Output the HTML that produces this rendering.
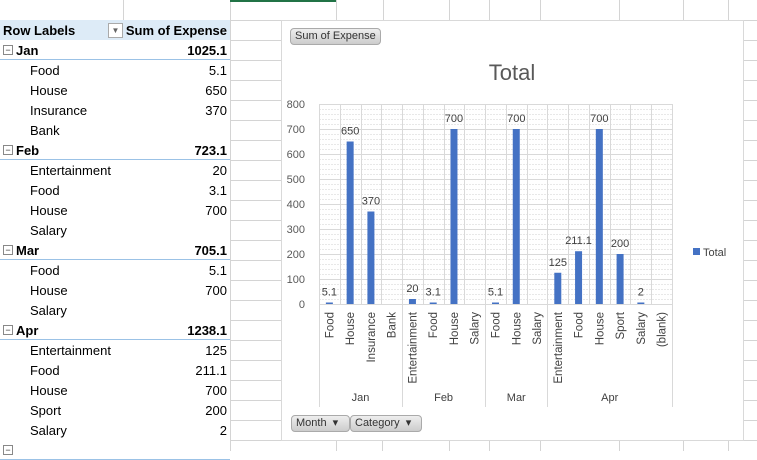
<!DOCTYPE html>
<html><head><meta charset="utf-8"><style>
body{margin:0;width:757px;height:451px;overflow:hidden;background:#fff;font-family:"Liberation Sans",sans-serif;position:relative}
.r{position:absolute;left:0;width:230px;height:20px;font-size:13px;line-height:21px;color:#000}
.r span{position:absolute}
.v{right:3px}
.b{font-weight:bold;border-bottom:1px solid #9bc2e6;height:19px}
.btn{position:absolute;height:15px;background:linear-gradient(#eee,#ccc);border:1px solid #aaa;border-radius:4px;font-size:11px;line-height:15px;color:#333;padding:0 4px}
</style></head><body>
<svg width="757" height="451" style="position:absolute;left:0;top:0">
<g stroke="#d4d4d4" stroke-width="1">
<line x1="230.5" y1="0" x2="230.5" y2="451"/>
<line x1="336.5" y1="0" x2="336.5" y2="20"/><line x1="383.5" y1="0" x2="383.5" y2="20"/><line x1="449.5" y1="0" x2="449.5" y2="20"/><line x1="489.5" y1="0" x2="489.5" y2="20"/><line x1="540.5" y1="0" x2="540.5" y2="20"/><line x1="619.5" y1="0" x2="619.5" y2="20"/><line x1="683.5" y1="0" x2="683.5" y2="20"/><line x1="728.5" y1="0" x2="728.5" y2="20"/>
<line x1="336.5" y1="441" x2="336.5" y2="451"/><line x1="382.5" y1="441" x2="382.5" y2="451"/><line x1="449.5" y1="441" x2="449.5" y2="451"/><line x1="489.5" y1="441" x2="489.5" y2="451"/><line x1="540.5" y1="441" x2="540.5" y2="451"/><line x1="619.5" y1="441" x2="619.5" y2="451"/><line x1="683.5" y1="441" x2="683.5" y2="451"/><line x1="728.5" y1="441" x2="728.5" y2="451"/>
<line x1="230" y1="20.5" x2="757" y2="20.5"/>
<line x1="123.5" y1="0" x2="123.5" y2="20"/>
</g>
<g id="grid" stroke="#d4d4d4"></g>
<line x1="230" y1="1" x2="336" y2="1" stroke="#217346" stroke-width="2"/>
<rect x="0" y="20" width="230" height="20" fill="#ddebf7"/>
<rect x="281.5" y="20.5" width="462" height="420" fill="#fff" stroke="#d9d9d9"/>
<g id="chart"></g>
</svg>
<div class="r" style="top:20px;font-weight:bold"><span style="left:3px">Row Labels</span><span style="left:108px;top:3px;width:13px;height:13px;border:1px solid #aaa;background:#fff;font-size:8px;line-height:13px;text-align:center;color:#666">▼</span><span class="v">Sum of Expense</span></div>
<div id="rows"></div>
<div class="btn" style="left:290px;top:28px">Sum of Expense</div>
<div class="btn" style="left:291px;top:415px;width:49px">Month &nbsp;▾</div>
<div class="btn" style="left:350px;top:415px;width:62px">Category &nbsp;▾</div>
<script>
let gl="";for(let y=40;y<=440;y+=20){gl+=`<line x1="230" y1="${y+.5}" x2="281" y2="${y+.5}"/><line x1="744" y1="${y+.5}" x2="757" y2="${y+.5}"/>`;}
document.getElementById("grid").innerHTML=gl;
const rows=[["Jan","1025.1",1],["Food","5.1"],["House","650"],["Insurance","370"],["Bank",""],["Feb","723.1",1],["Entertainment","20"],["Food","3.1"],["House","700"],["Salary",""],["Mar","705.1",1],["Food","5.1"],["House","700"],["Salary",""],["Apr","1238.1",1],["Entertainment","125"],["Food","211.1"],["House","700"],["Sport","200"],["Salary","2"],["",""  ,1]];
let h="";rows.forEach((r,i)=>{const y=40+i*20;
if(r[2])h+=`<div class="r b" style="top:${y}px"><span style="left:3px;top:5px;width:8px;height:8px;border:1px solid #888;font-size:9px;line-height:8px;text-align:center;font-weight:normal;color:#333">−</span><span style="left:16px">${r[0]}</span><span class="v">${r[1]}</span></div>`;
else h+=`<div class="r" style="top:${y}px"><span style="left:30px">${r[0]}</span><span class="v">${r[1]}</span></div>`;});
document.getElementById("rows").innerHTML=h;
const cats=[["Food",5.1],["House",650],["Insurance",370],["Bank",null],["Entertainment",20],["Food",3.1],["House",700],["Salary",null],["Food",5.1],["House",700],["Salary",null],["Entertainment",125],["Food",211.1],["House",700],["Sport",200],["Salary",2],["(blank)",null]];
const x0=319,x1=672,y0=304,w=(x1-x0)/17,s=0.25;let g="";
for(let v=0;v<=800;v+=20){const y=y0-v*s;g+=`<line x1="${x0}" x2="${x1}" y1="${y+.5}" y2="${y+.5}" stroke="${v%100?'#e8e8e8':'#d9d9d9'}" ${v%100?'stroke-dasharray="2,1"':''}/>`;
if(v%100==0)g+=`<text x="305" y="${y+4}" text-anchor="end" font-size="11" fill="#595959">${v}</text>`;}
for(let i=0;i<=17;i++){const x=Math.round(x0+i*w)+.5;const mb=[0,4,8,11,17].includes(i);g+=`<line x1="${x}" x2="${x}" y1="104" y2="${mb?407:304}" stroke="#d9d9d9"/>`;}
cats.forEach((c,i)=>{const cx=x0+(i+.5)*w;if(c[1]!=null){const hh=Math.max(c[1]*s,1.5);g+=`<rect x="${cx-3.5}" y="${y0-hh}" width="7" height="${hh}" fill="#4472c4"/><text x="${cx}" y="${y0-hh-7}" text-anchor="middle" font-size="11" fill="#404040">${c[1]}</text>`;}
g+=`<text transform="translate(${cx+4},312) rotate(-90)" text-anchor="end" font-size="11.5" fill="#404040">${c[0]}</text>`;});
[["Jan",0,4],["Feb",4,8],["Mar",8,11],["Apr",11,17]].forEach(m=>{g+=`<text x="${x0+(m[1]+m[2])/2*w}" y="401" text-anchor="middle" font-size="11" fill="#404040">${m[0]}</text>`;});
g+=`<text x="512" y="80" text-anchor="middle" font-size="22" fill="#595959">Total</text>`;
g+=`<rect x="693" y="248" width="7" height="7" fill="#4472c4"/><text x="703" y="256" font-size="11" fill="#404040">Total</text>`;
document.getElementById("chart").innerHTML=g;
</script>
</body></html>
